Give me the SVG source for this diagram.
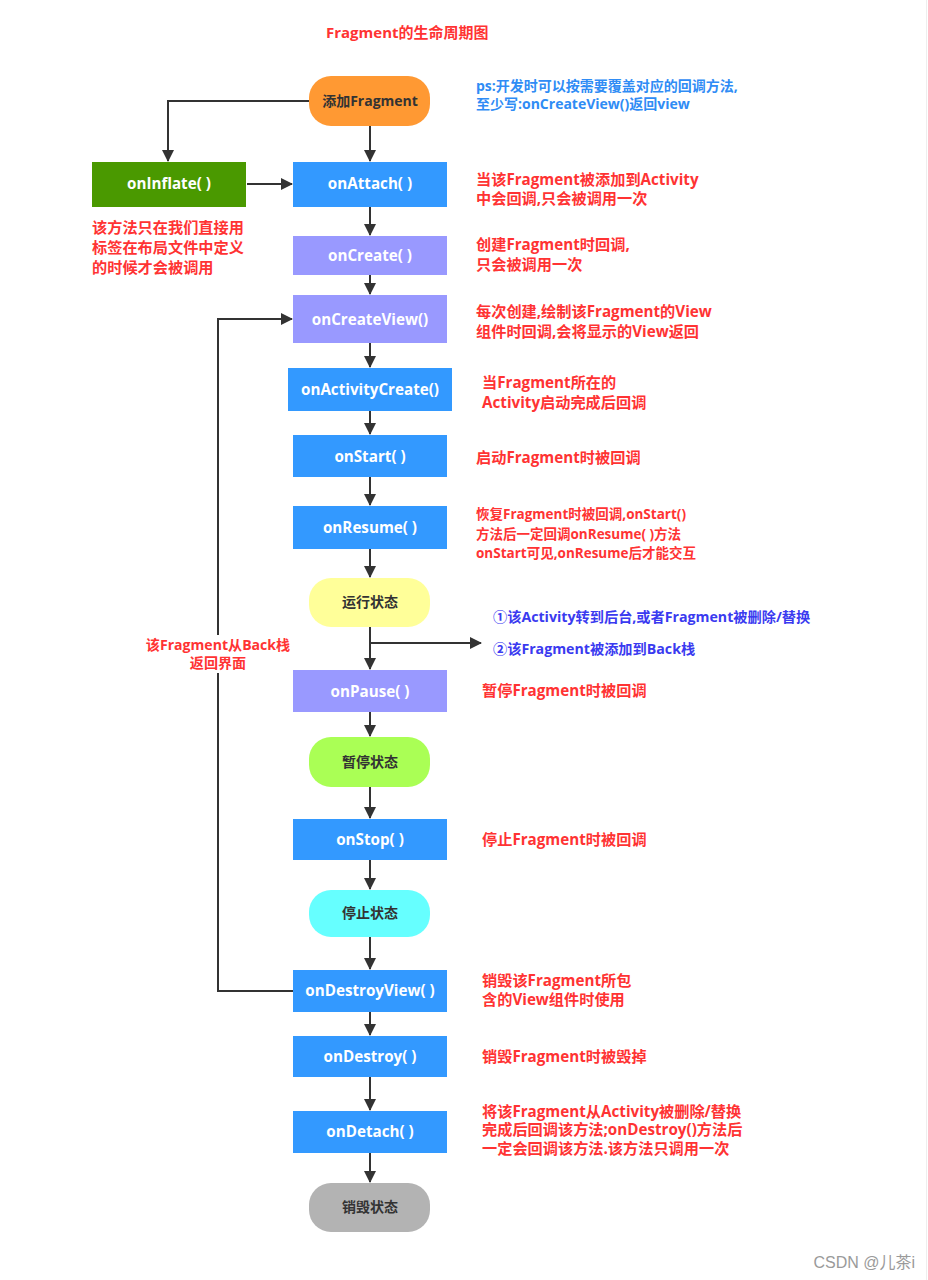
<svg xmlns="http://www.w3.org/2000/svg" width="928" height="1280" viewBox="0 0 928 1280">
<style>
text{font-family:'Open Sans','Noto Sans CJK SC',sans-serif;font-weight:bold;}
.nl{fill:#ffffff;font-size:15.2px;text-anchor:middle;}
.sl{fill:#333333;font-size:14px;text-anchor:middle;}
.red{fill:#ff3333;font-size:15.2px;}
.sm{font-size:13.5px;}
.blue{fill:#2f8cf5;font-size:14px;}
.indigo{fill:#3a3af0;font-size:14.2px;}
.ln{fill:none;stroke:#333333;stroke-width:2;}
.blueBox{fill:#3399ff;}
.purpleBox{fill:#9999ff;}
</style>
<defs>
<marker id="ah" markerUnits="userSpaceOnUse" markerWidth="12" markerHeight="12" refX="11" refY="6" orient="auto">
<path d="M0,0 L12,6 L0,12 z" fill="#333333"/>
</marker>
</defs>
<rect width="928" height="1280" fill="#ffffff"/>
<line x1="926.5" y1="0" x2="926.5" y2="1280" stroke="#eeeeee" stroke-width="1"/>

<text x="326" y="38" class="red" style="font-size:15px">Fragment的生命周期图</text>

<g id="connectors">
<line class="ln" x1="370" y1="126" x2="370" y2="161" marker-end="url(#ah)"/>
<polyline class="ln" points="309,101 168,101 168,161" marker-end="url(#ah)"/>
<line class="ln" x1="247" y1="184" x2="292" y2="184" marker-end="url(#ah)"/>
<line class="ln" x1="370" y1="207" x2="370" y2="235" marker-end="url(#ah)"/>
<line class="ln" x1="370" y1="275" x2="370" y2="294" marker-end="url(#ah)"/>
<line class="ln" x1="370" y1="343" x2="370" y2="367" marker-end="url(#ah)"/>
<line class="ln" x1="370" y1="411" x2="370" y2="434" marker-end="url(#ah)"/>
<line class="ln" x1="370" y1="477" x2="370" y2="505" marker-end="url(#ah)"/>
<line class="ln" x1="370" y1="549" x2="370" y2="577" marker-end="url(#ah)"/>
<line class="ln" x1="370" y1="627" x2="370" y2="669" marker-end="url(#ah)"/>
<line class="ln" x1="370" y1="643" x2="481" y2="643" marker-end="url(#ah)"/>
<line class="ln" x1="370" y1="712" x2="370" y2="736" marker-end="url(#ah)"/>
<line class="ln" x1="370" y1="787" x2="370" y2="818" marker-end="url(#ah)"/>
<line class="ln" x1="370" y1="860" x2="370" y2="889" marker-end="url(#ah)"/>
<line class="ln" x1="370" y1="937" x2="370" y2="969" marker-end="url(#ah)"/>
<line class="ln" x1="370" y1="1012" x2="370" y2="1035" marker-end="url(#ah)"/>
<line class="ln" x1="370" y1="1077" x2="370" y2="1110" marker-end="url(#ah)"/>
<line class="ln" x1="370" y1="1153" x2="370" y2="1182" marker-end="url(#ah)"/>
<polyline class="ln" points="293,991 218,991 218,673"/>
<polyline class="ln" points="218,635 218,319 292,319" marker-end="url(#ah)"/>
<text x="218" y="650" class="red" text-anchor="middle" style="font-size:14.1px">该Fragment从Back栈</text>
<text x="218" y="668" class="red" text-anchor="middle" style="font-size:14.1px">返回界面</text>
</g>

<g id="add">
<rect x="309" y="76" width="121" height="50" rx="22" fill="#ff9933"/>
<text x="370" y="106" class="sl">添加Fragment</text>
</g>
<g id="ps-note">
<text x="476" y="91" class="blue">ps:开发时可以按需要覆盖对应的回调方法,</text>
<text x="476" y="109" class="blue">至少写:onCreateView()返回view</text>
</g>

<g id="onInflate">
<rect x="92" y="162" width="154" height="45" fill="#4a9900"/>
<text x="169" y="189" class="nl">onInflate( )</text>
<text x="92" y="233" class="red">该方法只在我们直接用</text>
<text x="92" y="253" class="red">标签在布局文件中定义</text>
<text x="92" y="273" class="red">的时候才会被调用</text>
</g>

<g id="onAttach">
<rect x="293" y="162" width="154" height="45" class="blueBox"/>
<text x="370" y="189" class="nl">onAttach( )</text>
<text x="476" y="185" class="red">当该Fragment被添加到Activity</text>
<text x="476" y="204" class="red">中会回调,只会被调用一次</text>
</g>

<g id="onCreate">
<rect x="293" y="236" width="154" height="39" class="purpleBox"/>
<text x="370" y="261" class="nl">onCreate( )</text>
<text x="476" y="250" class="red">创建Fragment时回调,</text>
<text x="476" y="270" class="red">只会被调用一次</text>
</g>

<g id="onCreateView">
<rect x="293" y="295" width="154" height="48" class="purpleBox"/>
<text x="370" y="325" class="nl">onCreateView()</text>
<text x="476" y="317" class="red">每次创建,绘制该Fragment的View</text>
<text x="476" y="337" class="red">组件时回调,会将显示的View返回</text>
</g>

<g id="onActivityCreate">
<rect x="288" y="368" width="164" height="43" class="blueBox"/>
<text x="370" y="395" class="nl">onActivityCreate()</text>
<text x="482" y="388" class="red">当Fragment所在的</text>
<text x="482" y="408" class="red">Activity启动完成后回调</text>
</g>

<g id="onStart">
<rect x="293" y="435" width="154" height="42" class="blueBox"/>
<text x="370" y="462" class="nl">onStart( )</text>
<text x="476" y="463" class="red">启动Fragment时被回调</text>
</g>

<g id="onResume">
<rect x="293" y="506" width="154" height="43" class="blueBox"/>
<text x="370" y="533" class="nl">onResume( )</text>
<text x="476" y="519" class="red sm">恢复Fragment时被回调,onStart()</text>
<text x="476" y="539" class="red sm">方法后一定回调onResume( )方法</text>
<text x="476" y="558" class="red sm">onStart可见,onResume后才能交互</text>
</g>

<g id="running">
<rect x="309" y="578" width="121" height="49" rx="22" fill="#ffff99"/>
<text x="370" y="607" class="sl">运行状态</text>
<text x="493" y="622" class="indigo">①该Activity转到后台,或者Fragment被删除/替换</text>
<text x="493" y="654" class="indigo">②该Fragment被添加到Back栈</text>
</g>

<g id="onPause">
<rect x="293" y="670" width="154" height="42" class="purpleBox"/>
<text x="370" y="697" class="nl">onPause( )</text>
<text x="482" y="696" class="red">暂停Fragment时被回调</text>
</g>

<g id="paused">
<rect x="309" y="737" width="121" height="50" rx="22" fill="#aaff55"/>
<text x="370" y="767" class="sl">暂停状态</text>
</g>

<g id="onStop">
<rect x="293" y="819" width="154" height="41" class="blueBox"/>
<text x="370" y="845" class="nl">onStop( )</text>
<text x="482" y="845" class="red">停止Fragment时被回调</text>
</g>

<g id="stopped">
<rect x="309" y="890" width="121" height="47" rx="22" fill="#66ffff"/>
<text x="370" y="918" class="sl">停止状态</text>
</g>

<g id="onDestroyView">
<rect x="293" y="970" width="154" height="42" class="blueBox"/>
<text x="370" y="996" class="nl">onDestroyView( )</text>
<text x="482" y="986" class="red">销毁该Fragment所包</text>
<text x="482" y="1005" class="red">含的View组件时使用</text>
</g>

<g id="onDestroy">
<rect x="293" y="1036" width="154" height="41" class="blueBox"/>
<text x="370" y="1062" class="nl">onDestroy( )</text>
<text x="482" y="1062" class="red">销毁Fragment时被毁掉</text>
</g>

<g id="onDetach">
<rect x="293" y="1111" width="154" height="42" class="blueBox"/>
<text x="370" y="1137" class="nl">onDetach( )</text>
<text x="482" y="1117" class="red">将该Fragment从Activity被删除/替换</text>
<text x="482" y="1135" class="red">完成后回调该方法;onDestroy()方法后</text>
<text x="482" y="1154" class="red">一定会回调该方法.该方法只调用一次</text>
</g>

<g id="destroyed">
<rect x="309" y="1183" width="121" height="49" rx="22" fill="#b3b3b3"/>
<text x="370" y="1212" class="sl">销毁状态</text>
</g>

<text x="915" y="1268" text-anchor="end" style="font-family:'Liberation Sans','Noto Sans CJK SC',sans-serif;font-weight:normal;font-size:16px;fill:#9a9a9a">CSDN @儿茶i</text>
</svg>
